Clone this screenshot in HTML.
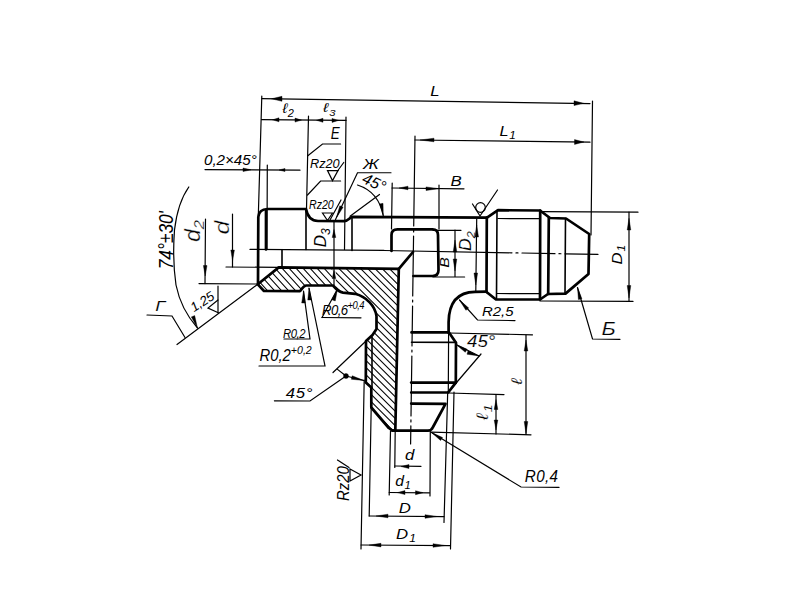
<!DOCTYPE html>
<html><head><meta charset="utf-8"><style>
html,body{margin:0;padding:0;background:#fff;width:800px;height:600px;overflow:hidden}
svg{display:block}
text{font-family:"Liberation Sans",sans-serif;font-style:italic;fill:#000}
</style></head><body>
<svg width="800" height="600" viewBox="0 0 800 600">
<defs>
<clipPath id="hc1"><path d="M278.75 267.4 L398.8 268.9 L395.3 430.6 L392.5 430.6 L388.8 428 L371.3 407.5 L371.3 387.5 L365.8 382.5 L366 341 L372.5 335 L376.5 329 L376.5 316 C375 306 367 297 355 293.8 L343 292.6 C339 292 336 289 333 285.5 L306 285.5 C303 286 302 289 300 291.2 L264 291 L257.8 284.3 Z"/></clipPath>
<clipPath id="hc2"><path d="M278.75 267.4 L398.8 268.9 L395.3 430.6 L392.5 430.6 L388.8 428 L371.3 407.5 L371.3 387.5 L365.8 382.5 L366 341 L372.5 335 L376.5 329 L376.5 316 C375 306 367 297 355 293.8 L343 292.6 C339 292 336 289 333 285.5 L306 285.5 C303 286 302 289 300 291.2 L264 291 L257.8 284.3 Z"/></clipPath>
<clipPath id="rl"><path d="M200 200 L332.3 200 L332.3 300 L200 300 Z"/></clipPath>
<clipPath id="rr"><path d="M335.7 200 L420 200 L420 450 L335.7 450 Z"/></clipPath>
</defs>
<rect width="800" height="600" fill="#fff"/>
<g clip-path="url(#hc1)"><g clip-path="url(#rl)" stroke="#000" stroke-width="1.05" fill="none"><path d="M174.5 250.0L220.0 300.0M181.5 250.0L227.0 300.0M188.5 250.0L234.0 300.0M195.5 250.0L241.0 300.0M202.5 250.0L248.0 300.0M209.5 250.0L255.0 300.0M216.5 250.0L262.0 300.0M223.5 250.0L269.0 300.0M230.5 250.0L276.0 300.0M237.5 250.0L283.0 300.0M244.5 250.0L290.0 300.0M251.5 250.0L297.0 300.0M258.5 250.0L304.0 300.0M265.5 250.0L311.0 300.0M272.5 250.0L318.0 300.0M279.5 250.0L325.0 300.0M286.5 250.0L332.0 300.0M293.5 250.0L339.0 300.0M300.5 250.0L346.0 300.0M307.5 250.0L353.0 300.0M314.5 250.0L360.0 300.0M321.5 250.0L367.0 300.0M328.5 250.0L374.0 300.0M335.5 250.0L381.0 300.0M342.5 250.0L388.0 300.0M349.5 250.0L395.0 300.0M356.5 250.0L402.0 300.0M363.5 250.0L409.0 300.0M370.5 250.0L416.0 300.0M377.5 250.0L423.0 300.0"/></g><g clip-path="url(#rr)" stroke="#000" stroke-width="1.05" fill="none"><path d="M90.0 250.0L280.0 440.0M97.2 250.0L287.2 440.0M104.4 250.0L294.4 440.0M111.6 250.0L301.6 440.0M118.8 250.0L308.8 440.0M126.0 250.0L316.0 440.0M133.2 250.0L323.2 440.0M140.4 250.0L330.4 440.0M147.6 250.0L337.6 440.0M154.8 250.0L344.8 440.0M162.0 250.0L352.0 440.0M169.2 250.0L359.2 440.0M176.4 250.0L366.4 440.0M183.6 250.0L373.6 440.0M190.8 250.0L380.8 440.0M198.0 250.0L388.0 440.0M205.2 250.0L395.2 440.0M212.4 250.0L402.4 440.0M219.6 250.0L409.6 440.0M226.8 250.0L416.8 440.0M234.0 250.0L424.0 440.0M241.2 250.0L431.2 440.0M248.4 250.0L438.4 440.0M255.6 250.0L445.6 440.0M262.8 250.0L452.8 440.0M270.0 250.0L460.0 440.0M277.2 250.0L467.2 440.0M284.4 250.0L474.4 440.0M291.6 250.0L481.6 440.0M298.8 250.0L488.8 440.0M306.0 250.0L496.0 440.0M313.2 250.0L503.2 440.0M320.4 250.0L510.4 440.0M327.6 250.0L517.6 440.0M334.8 250.0L524.8 440.0M342.0 250.0L532.0 440.0M349.2 250.0L539.2 440.0M356.4 250.0L546.4 440.0M363.6 250.0L553.6 440.0M370.8 250.0L560.8 440.0M378.0 250.0L568.0 440.0M385.2 250.0L575.2 440.0M392.4 250.0L582.4 440.0M399.6 250.0L589.6 440.0M406.8 250.0L596.8 440.0M414.0 250.0L604.0 440.0M421.2 250.0L611.2 440.0M428.4 250.0L618.4 440.0M435.6 250.0L625.6 440.0"/></g></g>
<g fill="none" stroke="#000" stroke-width="2.7" stroke-linejoin="round" stroke-linecap="round">
<path d="M278.75 267.4 L398.8 268.9 L395.3 430.6 L392.5 430.6 L388.8 428 L371.3 407.5 L371.3 387.5 L365.8 382.5 L366 341 L372.5 335 L376.5 329 L376.5 316 C375 306 367 297 355 293.8 L343 292.6 C339 292 336 289 333 285.5 L306 285.5 C303 286 302 289 300 291.2 L264 291 L257.8 284.3 Z"/>
<path d="M398.8 268.9 L413 252"/>
<path d="M258 284 L258.3 217 Q259 209.3 267.5 209 L306 209 C307.5 217 311 220.8 318 221 L344 221.2 C348 221.2 349.5 218 352 216.8 L487 217.6"/>
<path d="M266 210 L266 249.5"/>
<path d="M391.5 251 L391.5 235 Q391.5 229.4 397.5 229.4 L432.5 229.4 Q438 229.4 438 235 L438.5 270 Q438.5 276 432.5 276 L413.5 276"/>
<path d="M487 217.6 L498 210.2 L540 210.5 L550 218 L566 218.5 L589.2 234 L588.5 274 L565.5 293.6 L548 294 L540 299.5 L496 299.5 L486.5 292"/>
<path d="M540.2 210.5 L540 299.5"/>
<path d="M486.8 217.6 L486.5 292"/>
<path d="M548.8 218 L548.2 294"/>
<path d="M486.5 291.6 L475 291.8 C461 292 449 299 448.6 322 L448.6 333"/>
<path d="M411.5 332.4 L449 332.4 L456 342.8 L455.8 382.6 L448.2 392.5 L411.2 392.5"/>
<path d="M411.2 382.6 L455.8 382.6"/>
<path d="M411.2 403.6 L445.5 403.8 L433 427 Q431.5 430.6 428 430.7 L392.5 430.7"/>
</g>
<g fill="none" stroke="#000" stroke-width="1.6" stroke-linecap="round">
<path d="M306 209.5 L306 249.5"/>
<path d="M282 250 L282 267"/>
<path d="M497 210.5 L496.5 299"/>
<path d="M565.5 218.5 L565 293.5"/>
<path d="M411.5 342.2 L456 342.4"/>
<path d="M372 337 L372 388"/>
<path d="M352 217 L352 250.5"/>
</g>
<g fill="none" stroke="#000" stroke-width="1.2" stroke-linecap="round">
<path d="M262 98.6 L590 103.6"/>
<path d="M261.8 96 L258.3 216"/>
<path d="M592.5 101 L591 235"/>
<path d="M261.5 119.6 L346 120.4"/>
<path d="M308.5 116 L306.5 209"/>
<path d="M346 117 L344.5 249.5"/>
<path d="M415 140 L590 142.2"/>
<path d="M392.2 183 L391.5 229"/>
<path d="M439 185 L439 229"/>
<path d="M392 188 L464 188.8"/>
<path d="M205 169.6 L300 170.2"/>
<path d="M267.3 165 L267 249"/>
<path d="M226 267 L279 267.4"/>
<path d="M250 249.4 L384 250.4"/>
<path d="M413 276 L433 276"/>
<path d="M498 218.5 L540 218.7"/>
<path d="M497 293.5 L540 293.7"/>
<path d="M476.7 219 L475.8 291"/>
<path d="M541 211.7 L638 212.2"/>
<path d="M540 301 L633 301.4"/>
<path d="M629 212 L629 301"/>
<path d="M455 230 L455 276.5"/>
<path d="M433 230.3 L461 230.3"/>
<path d="M433 277 L464.6 277"/>
<path d="M334 221 L334 285"/>
<path d="M232.5 214 L232.5 267"/>
<path d="M205.5 219 L205 283.6"/>
<path d="M199 283.6 L257.5 284"/>
<path d="M257.5 284.4 L177 344.5"/>
<path d="M188.8 187 C181 198 176.5 213 174.5 230 C173 250 173.5 268 176 285 C179 300 186 315 197.5 328"/>
<path d="M147 315 L172 316 L185 337.5"/>
<path d="M218 286 L218 312.7"/>
<path d="M218 300 L208 308 L218.3 312.7"/>
<path d="M448.6 333 L448.3 392"/>
<path d="M447.7 392 L444 522.5"/>
<path d="M454 392 L450.5 549"/>
<path d="M364.2 380 L361 549"/>
<path d="M371.2 407 L369.2 516"/>
<path d="M390.5 431 L389.2 495"/>
<path d="M395.2 431 L394.8 467.5"/>
<path d="M430.3 431 L430 496"/>
<path d="M394.8 466 L421 466.3"/>
<path d="M389.2 492.5 L429.5 492.8"/>
<path d="M369.2 516 L444 516.6"/>
<path d="M361 545 L450.5 545.6"/>
<path d="M350 469 L361 475 L350 481 Z"/>
<path d="M337.5 460 L349 467.5"/>
<path d="M449 333 L532.5 334.8"/>
<path d="M431 432.2 L531 434.8"/>
<path d="M526 335 L526 434.5"/>
<path d="M448.8 393 L504 394.6"/>
<path d="M496 394.5 L496 434"/>
<path d="M448 392.5 L481 354"/>
<path d="M456 344.5 Q468 350.5 479 356"/>
<path d="M431.5 432.5 L521 487 L559 487.4"/>
<path d="M366 341 L333 372.5"/>
<path d="M337.5 369.4 L346 376"/>
<path d="M346 376 L364 380.5"/>
<path d="M346 376 L310 401 L274.4 400.8"/>
<path d="M284 339 L310 339 L303.5 291"/>
<path d="M259 366 L325 366 L309 288"/>
<path d="M322 317.5 L361 317.8"/>
<path d="M322 317.5 L337.5 289"/>
<path d="M459.5 300 L477.5 320 L515 320.6"/>
<path d="M577.5 287.5 L592.5 339 L620 339.3"/>
<path d="M307.5 156 L322.5 144 L340.6 144"/>
<path d="M327.5 170.6 L338 170.6 L332.5 180.6 Z"/>
<path d="M337.5 171 L343.75 162.5"/>
<path d="M307.5 195 L320.6 181 L340.6 181"/>
<path d="M322.5 213 L332.5 213 L327.5 220.5 Z"/>
<path d="M330 220 L341 200"/>
<path d="M391 172.75 L357.5 172.75 L335.5 219.5"/>
<path d="M357.5 185 C370 189 380 198 383.3 216"/>
<path d="M379.5 194.5 L350 216.2"/>
<path d="M472.5 204 L480 216 L497.5 190"/>
<path d="M415 136 L410.6 444" stroke-dasharray="90 4 2 4 60 4 2 4 40 4 2 4 60 4 2 4"/>
<path d="M384 250.5 L598 254.4" stroke-dasharray="128 4 2 4 33 4 2 4 33 4 2 4"/>
</g>
<circle cx="480.5" cy="207.5" r="4.8" fill="none" stroke="#000" stroke-width="1.2"/>
<g fill="#000" stroke="#000" stroke-width="0.4" stroke-linejoin="round">
<path d="M272.5 119.8 L279 117.8 L279 121.8 Z"/>
<path d="M301.5 120.1 L295 118.1 L295 122.1 Z"/>
<path d="M316.5 120.3 L323 118.3 L323 122.3 Z"/>
<path d="M338.5 120.4 L332 118.4 L332 122.4 Z"/>
<path d="M271.5 98.8 L282 96.3 L282 101.3 Z"/>
<path d="M583.5 103.3 L574 100.8 L574 105.6 Z"/>
<path d="M420.00 140.00 L434.00 141.80 L434.00 138.20 Z"/>
<path d="M584 142 L574.5 139.6 L574.5 144.4 Z"/>
<path d="M399 188 L408 186.2 L408 189.8 Z"/>
<path d="M438.5 188.7 L426 186.9 L426 190.5 Z"/>
<path d="M251 169.8 L243 168 L243 171.6 Z"/>
<path d="M279 170 L285 168.4 L285 171.6 Z"/>
<path d="M232.6 260.5 L230.8 250 L234.4 250 Z"/>
<path d="M205.2 276 L203.4 265.5 L207 265.5 Z"/>
<path d="M334 229.5 L332.2 237.5 L335.8 237.5 Z"/>
<path d="M334 270.5 L332.2 278.5 L335.8 278.5 Z"/>
<path d="M476.70 225.00 L474.90 237.00 L478.50 237.00 Z"/>
<path d="M475.80 285.00 L477.60 273.00 L474.00 273.00 Z"/>
<path d="M455.00 240.00 L453.20 252.00 L456.80 252.00 Z"/>
<path d="M455.00 271.00 L456.80 259.00 L453.20 259.00 Z"/>
<path d="M629 218.3 L627.2 230 L630.8 230 Z"/>
<path d="M629 298 L627.2 285.5 L630.8 285.5 Z"/>
<path d="M526 340 L524.2 351 L527.8 351 Z"/>
<path d="M526 433.5 L524.2 421.5 L527.8 421.5 Z"/>
<path d="M496 399.5 L494.2 409.5 L497.8 409.5 Z"/>
<path d="M496 430 L494.2 420 L497.8 420 Z"/>
<path d="M197.50 328.00 L194.68 315.61 L191.32 316.89 Z"/>
<path d="M364.00 380.50 L352.18 375.75 L351.32 379.25 Z"/>
<path d="M346 376 m-2.5 0 a2.5 2.5 0 1 0 5 0 a2.5 2.5 0 1 0 -5 0 Z"/>
<path d="M383.30 215.50 L383.02 203.37 L379.47 203.99 Z"/>
<path d="M456.00 344.50 L465.30 352.29 L467.18 349.22 Z"/>
<path d="M479.00 356.00 L468.02 350.78 L466.98 354.22 Z"/>
<path d="M401 466.5 L409 464.5 L409 468.5 Z"/>
<path d="M397.5 492.6 L405 490.6 L405 494.6 Z"/>
<path d="M423 492.7 L415.5 490.7 L415.5 494.7 Z"/>
<path d="M376.00 516.00 L388.00 517.80 L388.00 514.20 Z"/>
<path d="M437.00 516.50 L425.00 514.70 L425.00 518.30 Z"/>
<path d="M369.00 545.10 L381.00 546.90 L381.00 543.30 Z"/>
<path d="M445.00 545.50 L433.00 543.70 L433.00 547.30 Z"/>
<path d="M431.50 432.50 L440.60 440.53 L442.55 437.51 Z"/>
<path d="M459.50 300.00 L465.92 310.30 L468.66 307.96 Z"/>
<path d="M577.50 287.50 L578.40 299.60 L581.91 298.80 Z"/>
<path d="M303.50 291.00 L301.70 303.00 L305.30 303.00 Z"/>
<path d="M309.00 288.00 L307.76 300.07 L311.36 299.90 Z"/>
<path d="M337.50 289.00 L331.85 299.74 L335.25 300.92 Z"/>
<path d="M336.50 217.50 L343.08 207.30 L339.80 205.82 Z"/>
</g>
<g>
<text font-size="14" transform="translate(430.33 96.00) scale(1.200 1.000)">L</text>
<text font-size="14" transform="translate(282.44 112.80) scale(1.100 1.000)" letter-spacing="0.30">ℓ<tspan font-size='10' dy='4'>2</tspan></text>
<text font-size="14" transform="translate(322.97 112.25) scale(1.124 0.937)" letter-spacing="1.00">ℓ<tspan font-size='10' dy='4'>3</tspan></text>
<text font-size="14" transform="translate(330.70 139.00) scale(0.960 1.200)">E</text>
<text font-size="14" transform="translate(499.39 135.80) scale(1.170 1.067)" letter-spacing="0.65">L<tspan font-size='10' dy='3'>1</tspan></text>
<text font-size="14" transform="translate(450.61 186.00) scale(1.200 1.000)">B</text>
<text font-size="14" transform="translate(363.01 169.00) scale(1.224 1.087)">Ж</text>
<text font-size="14" transform="translate(361.04 182.33) rotate(25) scale(1.128 1.128)">45°</text>
<text font-size="14" transform="translate(310.00 168.00) scale(0.909 0.900)">Rz20</text>
<text font-size="14" transform="translate(309.00 209.00) scale(0.758 0.900)">Rz20</text>
<text font-size="14" transform="translate(203.96 165.00) scale(1.083 1.000)">0,2×45°</text>
<text font-size="14" transform="translate(155.30 311.00) scale(1.304 1.087)" stroke="#fff" stroke-width="0.09">Г</text>
<text font-size="14" transform="translate(172.68 269.27) rotate(-90) scale(1.236 1.390)">74°±30'</text>
<text font-size="14" transform="translate(199.52 242.05) rotate(-90) scale(1.654 1.511)" stroke="#fff" stroke-width="0.20">d<tspan font-size='10' dy='3'>2</tspan></text>
<text font-size="14" transform="translate(229.00 234.61) rotate(-90) scale(1.778 1.482)" stroke="#fff" stroke-width="0.24">d</text>
<text font-size="14" transform="translate(326.31 247.18) rotate(-90) scale(1.210 1.231)">D<tspan font-size='10' dy='3'>3</tspan></text>
<text font-size="14" transform="translate(471.49 250.97) rotate(-90) scale(1.261 1.170)" stroke="#fff" stroke-width="0.07">D<tspan font-size='10' dy='3'>2</tspan></text>
<text font-size="14" transform="translate(449.22 267.68) rotate(-90) scale(1.128 0.940)">B</text>
<text font-size="14" transform="translate(622.00 264.50) rotate(-90) scale(1.200 1.000)" letter-spacing="0.67">D<tspan font-size='10' dy='3'>1</tspan></text>
<text font-size="14" transform="translate(193.98 312.36) rotate(-33) scale(0.942 0.942)">1,25</text>
<text font-size="14" transform="translate(283.01 337.62) scale(0.807 0.945)" letter-spacing="-0.60">R0,2</text>
<text font-size="14" transform="translate(259.42 361.46) scale(1.062 1.180)">R0,2<tspan font-size='10' dy='-6'>+0,2</tspan></text>
<text font-size="14" transform="translate(321.92 315.08) scale(0.943 1.081)" letter-spacing="-0.60">R0,6<tspan font-size='10' dy='-6'>+0,4</tspan></text>
<text font-size="14" transform="translate(481.97 315.90) scale(1.068 0.913)" letter-spacing="-0.00">R2,5</text>
<text font-size="14" transform="translate(601.44 335.00) scale(1.560 1.300)" stroke="#fff" stroke-width="0.18">Б</text>
<text font-size="14" transform="translate(285.63 398.00) scale(1.195 1.087)" letter-spacing="0.63">45°</text>
<text font-size="14" transform="translate(467.00 347.00) scale(1.333 1.200)" stroke="#fff" stroke-width="0.10">45°</text>
<text font-size="14" transform="translate(522.00 384.66) rotate(-90) scale(1.320 1.100)" stroke="#fff" stroke-width="0.10">ℓ</text>
<text font-size="14" transform="translate(488.48 420.00) rotate(-90) scale(1.410 1.175)" letter-spacing="1.00" stroke="#fff" stroke-width="0.13">ℓ<tspan font-size='10' dy='3'>1</tspan></text>
<text font-size="14" transform="translate(524.77 482.43) scale(1.088 1.115)" letter-spacing="0.36">R0,4</text>
<text font-size="14" transform="translate(405.12 460.00) scale(1.200 1.000)">d</text>
<text font-size="14" transform="translate(395.25 486.00) scale(1.120 1.000)" letter-spacing="0.42">d<tspan font-size='10' dy='3'>1</tspan></text>
<text font-size="14" transform="translate(398.79 512.50) scale(1.200 1.000)">D</text>
<text font-size="14" transform="translate(395.99 539.00) scale(1.200 1.000)" letter-spacing="1.00">D<tspan font-size='10' dy='3'>1</tspan></text>
<text font-size="14" transform="translate(349.00 501.03) rotate(-90) scale(1.063 1.200)">Rz20</text>
</g>
</svg>
</body></html>
